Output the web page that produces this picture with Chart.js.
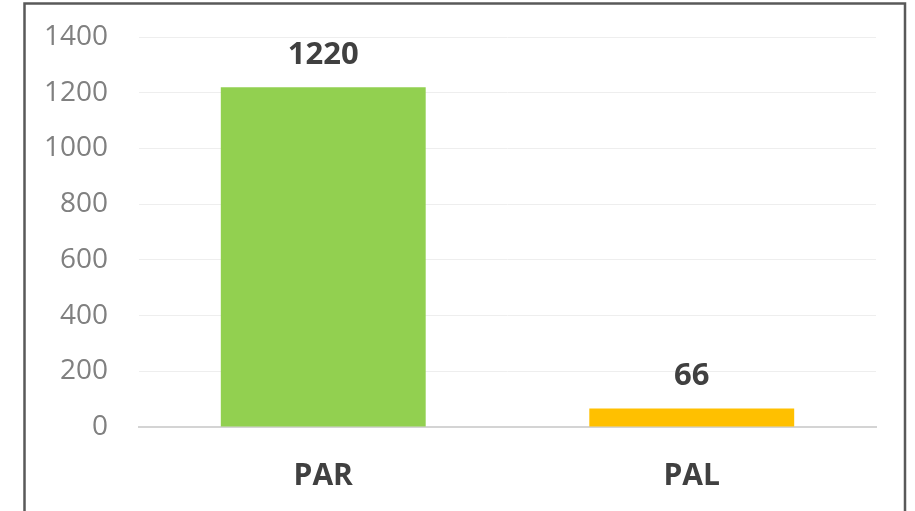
<!DOCTYPE html>
<html>
<head>
<meta charset="utf-8">
<script src="https://cdn.jsdelivr.net/npm/chart.js@4"></script>
<style>
  html, body { margin: 0; padding: 0; background: #fff; }
  #wrap { width: 915px; height: 511px; position: relative; }
</style>
</head>
<body>
<div id="wrap"><canvas id="chart" width="915" height="511"></canvas></div>
<script>
const categories = ['PAR', 'PAL'];
const values = [1220, 66];
const barColors = ['#92d050', '#ffc000'];
const yTicks = [0, 200, 400, 600, 800, 1000, 1200, 1400];

const FONT = "'Open Sans', 'Liberation Sans', sans-serif";

// frame around the chart, open at the bottom like the reference
const framePlugin = {
  id: 'frame',
  beforeDraw(chart) {
    const ctx = chart.ctx;
    ctx.save();
    ctx.strokeStyle = '#595959';
    ctx.lineWidth = 2.5;
    ctx.beginPath();
    ctx.moveTo(24.5, 520);
    ctx.lineTo(24.5, 3.5);
    ctx.lineTo(905, 3.5);
    ctx.lineTo(905, 520);
    ctx.stroke();
    ctx.restore();
  }
};

// value labels above each bar
const valueLabels = {
  id: 'valueLabels',
  afterDatasetsDraw(chart) {
    const ctx = chart.ctx;
    const meta = chart.getDatasetMeta(0);
    ctx.save();
    ctx.font = 'bold 31px ' + FONT;
    ctx.fillStyle = '#404040';
    ctx.textAlign = 'center';
    ctx.textBaseline = 'middle';
    meta.data.forEach((bar, i) => {
      ctx.fillText(String(values[i]), bar.x, bar.y - 32);
    });
    ctx.restore();
  }
};

new Chart(document.getElementById('chart'), {
  type: 'bar',
  data: {
    labels: categories,
    datasets: [{
      data: values,
      backgroundColor: barColors,
      categoryPercentage: 1,
      barPercentage: 0.556
    }]
  },
  options: {
    responsive: false,
    animation: false,
    layout: { padding: { left: 0, right: 39, top: 37, bottom: 0 } },
    plugins: { legend: { display: false }, tooltip: { enabled: false } },
    scales: {
      x: {
        grid: { display: false, drawTicks: false },
        border: { display: true, color: '#d4d4d4', width: 2 },
        ticks: {
          padding: 31,
          color: '#404040',
          font: { family: FONT, size: 30, weight: 'bold' }
        },
        afterFit(scale) { scale.height = 84; }
      },
      y: {
        min: 0,
        max: 1400,
        afterBuildTicks(scale) { scale.ticks = yTicks.map(v => ({ value: v })); },
        grid: {
          drawTicks: false,
          color: (c) => c.index === 0 ? 'rgba(0,0,0,0)' : '#eeeeee',
          lineWidth: 1
        },
        border: { display: false },
        ticks: {
          padding: 31,
          color: '#808080',
          font: { family: FONT, size: 28 },
          callback: (v) => String(v)
        },
        afterFit(scale) {
          scale.width = 139;
          scale.paddingTop = 0;
          scale.paddingBottom = 0;
        }
      }
    }
  },
  plugins: [framePlugin, valueLabels]
});
</script>
</body>
</html>
